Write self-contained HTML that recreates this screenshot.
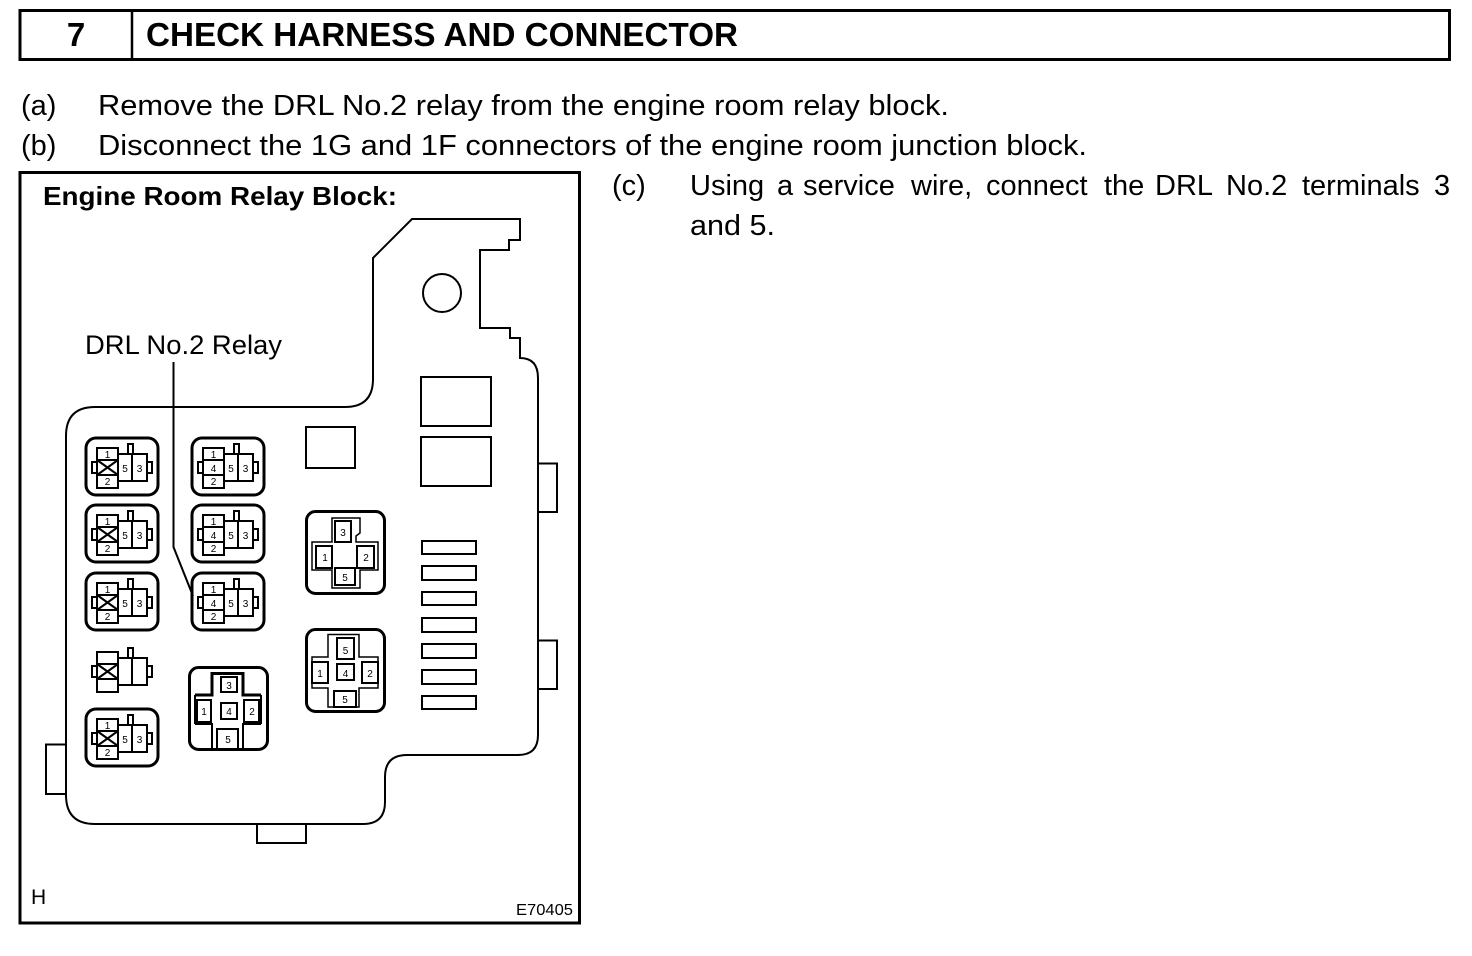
<!DOCTYPE html>
<html><head><meta charset="utf-8"><style>
html,body{margin:0;padding:0;background:#fff}
svg{display:block}
text{font-family:"Liberation Sans",Arial,sans-serif;fill:#000}
.t{font-size:29px}
.n{font-size:10px;text-anchor:middle}
.l rect,.l path,.l line{fill:none;stroke:#000;stroke-width:2}
.f{fill:none;stroke:#000;stroke-width:2}
</style></head><body>
<svg width="1472" height="956" viewBox="0 0 1472 956" xmlns="http://www.w3.org/2000/svg">
<rect width="1472" height="956" fill="#fff"/>
<rect x="20" y="10.500" width="1429.500" height="49" fill="none" stroke="#000" stroke-width="3"/>
<line x1="132" y1="10" x2="132" y2="60" stroke="#000" stroke-width="2.500"/>
<text x="76" y="46" font-size="33" font-weight="bold" text-anchor="middle">7</text>
<text x="146" y="46" font-size="33" font-weight="bold" textLength="592" lengthAdjust="spacingAndGlyphs">CHECK HARNESS AND CONNECTOR</text>
<text class="t" x="21" y="115">(a)</text>
<text class="t" x="98" y="115" textLength="851" lengthAdjust="spacingAndGlyphs">Remove the DRL No.2 relay from the engine room relay block.</text>
<text class="t" x="21" y="155">(b)</text>
<text class="t" x="98" y="155" textLength="989" lengthAdjust="spacingAndGlyphs">Disconnect the 1G and 1F connectors of the engine room junction block.</text>
<text class="t" x="612" y="195">(c)</text>
<text class="t" y="195"><tspan x="690">Using</tspan> <tspan x="777">a</tspan> <tspan x="803">service</tspan> <tspan x="911">wire,</tspan> <tspan x="986">connect</tspan> <tspan x="1104">the</tspan> <tspan x="1155">DRL</tspan> <tspan x="1226">No.2</tspan> <tspan x="1302">terminals</tspan> <tspan x="1434">3</tspan></text>
<text class="t" x="690" y="235" textLength="85" lengthAdjust="spacingAndGlyphs">and 5.</text>

<rect x="20" y="172.500" width="559.500" height="750.500" fill="none" stroke="#000" stroke-width="3"/>
<text x="43" y="205" font-size="26" font-weight="bold" textLength="354" lengthAdjust="spacingAndGlyphs">Engine Room Relay Block:</text>
<text x="85" y="354" font-size="27" textLength="197" lengthAdjust="spacingAndGlyphs">DRL No.2 Relay</text>
<text x="31" y="904" font-size="21">H</text>
<text x="516" y="915" font-size="16" textLength="57" lengthAdjust="spacingAndGlyphs">E70405</text>

<path d="M373 258 L412 219 H520 V240 H509 V250 H480 V328 H510 V338 H520 V358 Q538 358 538 378 V735 Q538 755 518 755 H407 Q385 755 385 777 V802 Q385 824 363 824 H95 Q66 824 66 795 V436 Q66 407 95 407 H345 Q373 407 373 379 Z" fill="none" stroke="#000" stroke-width="2"/>
<circle cx="442" cy="293" r="19" fill="none" stroke="#000" stroke-width="2"/>
<path d="M538 463.500 H557 V512 H538 M538 640.500 H557 V689 H538 M66 744.500 H46 V794 H66 M257 824 V843 H306 V824" fill="none" stroke="#000" stroke-width="2"/>
<rect x="421" y="377" width="70" height="49" fill="none" stroke="#000" stroke-width="2"/>
<rect x="421" y="437" width="70" height="49" fill="none" stroke="#000" stroke-width="2"/>
<rect x="306" y="427" width="49" height="41" fill="none" stroke="#000" stroke-width="2"/>
<path d="M173.500 362 V547 L193 596" fill="none" stroke="#000" stroke-width="2"/>

<g class="f">
<rect x="422" y="541" width="54" height="13"/><rect x="422" y="566" width="54" height="14"/>
<rect x="422" y="592" width="54" height="13"/><rect x="422" y="618" width="54" height="14"/>
<rect x="422" y="644" width="54" height="14"/><rect x="422" y="670" width="54" height="14"/>
<rect x="422" y="696" width="54" height="13"/>
</g>

<!-- small relays -->
<g class="l" transform="translate(85,437)"><rect x="1" y="1" width="72" height="57" rx="10" style="stroke-width:3"/><rect x="12" y="11" width="21" height="40"/><path d="M12 23H33M12 38H33M12 23L33 38M33 23L12 38"/><rect x="33" y="17" width="29" height="27"/><path d="M47 17V44M43 17V7H48V17M12 25H7V36H12M62 25H67V36H62"/><text class="n" x="22.500" y="21">1</text><text class="n" x="22.500" y="48">2</text><text class="n" x="40" y="35">5</text><text class="n" x="54.500" y="35">3</text></g>
<g class="l" transform="translate(85,504)"><rect x="1" y="1" width="72" height="57" rx="10" style="stroke-width:3"/><rect x="12" y="11" width="21" height="40"/><path d="M12 23H33M12 38H33M12 23L33 38M33 23L12 38"/><rect x="33" y="17" width="29" height="27"/><path d="M47 17V44M43 17V7H48V17M12 25H7V36H12M62 25H67V36H62"/><text class="n" x="22.500" y="21">1</text><text class="n" x="22.500" y="48">2</text><text class="n" x="40" y="35">5</text><text class="n" x="54.500" y="35">3</text></g>
<g class="l" transform="translate(85,572)"><rect x="1" y="1" width="72" height="57" rx="10" style="stroke-width:3"/><rect x="12" y="11" width="21" height="40"/><path d="M12 23H33M12 38H33M12 23L33 38M33 23L12 38"/><rect x="33" y="17" width="29" height="27"/><path d="M47 17V44M43 17V7H48V17M12 25H7V36H12M62 25H67V36H62"/><text class="n" x="22.500" y="21">1</text><text class="n" x="22.500" y="48">2</text><text class="n" x="40" y="35">5</text><text class="n" x="54.500" y="35">3</text></g>
<g class="l" transform="translate(85,708)"><rect x="1" y="1" width="72" height="57" rx="10" style="stroke-width:3"/><rect x="12" y="11" width="21" height="40"/><path d="M12 23H33M12 38H33M12 23L33 38M33 23L12 38"/><rect x="33" y="17" width="29" height="27"/><path d="M47 17V44M43 17V7H48V17M12 25H7V36H12M62 25H67V36H62"/><text class="n" x="22.500" y="21">1</text><text class="n" x="22.500" y="48">2</text><text class="n" x="40" y="35">5</text><text class="n" x="54.500" y="35">3</text></g>
<g class="l" transform="translate(85,641)"><rect x="12" y="11" width="21" height="40"/><path d="M12 23H33M12 38H33M12 23L33 38M33 23L12 38"/><rect x="33" y="17" width="29" height="27"/><path d="M47 17V44M43 17V7H48V17M12 25H7V36H12M62 25H67V36H62"/></g>

<g class="l" transform="translate(191,437)"><rect x="1" y="1" width="72" height="57" rx="10" style="stroke-width:3"/><rect x="12" y="11" width="21" height="40"/><path d="M12 23H33M12 38H33"/><rect x="33" y="17" width="29" height="27"/><path d="M47 17V44M43 17V7H48V17M12 25H7V36H12M62 25H67V36H62"/><text class="n" x="22.500" y="21">1</text><text class="n" x="22.500" y="35">4</text><text class="n" x="22.500" y="48">2</text><text class="n" x="40" y="35">5</text><text class="n" x="54.500" y="35">3</text></g>
<g class="l" transform="translate(191,504)"><rect x="1" y="1" width="72" height="57" rx="10" style="stroke-width:3"/><rect x="12" y="11" width="21" height="40"/><path d="M12 23H33M12 38H33"/><rect x="33" y="17" width="29" height="27"/><path d="M47 17V44M43 17V7H48V17M12 25H7V36H12M62 25H67V36H62"/><text class="n" x="22.500" y="21">1</text><text class="n" x="22.500" y="35">4</text><text class="n" x="22.500" y="48">2</text><text class="n" x="40" y="35">5</text><text class="n" x="54.500" y="35">3</text></g>
<g class="l" transform="translate(191,572)"><rect x="1" y="1" width="72" height="57" rx="10" style="stroke-width:3"/><rect x="12" y="11" width="21" height="40"/><path d="M12 23H33M12 38H33"/><rect x="33" y="17" width="29" height="27"/><path d="M47 17V44M43 17V7H48V17M12 25H7V36H12M62 25H67V36H62"/><text class="n" x="22.500" y="21">1</text><text class="n" x="22.500" y="35">4</text><text class="n" x="22.500" y="48">2</text><text class="n" x="40" y="35">5</text><text class="n" x="54.500" y="35">3</text></g>

<!-- large relay, lower middle -->
<g class="l">
<rect x="189.500" y="667.500" width="78" height="82" rx="9" style="stroke-width:3"/>
<path d="M195 695H212V673.500H243V695H261" style="stroke-width:3"/>
<path d="M195 724H212V749M243 749V724H261M195 695V724M261 695V724"/>
<rect x="221" y="677" width="16" height="15"/><rect x="197" y="700" width="14" height="22"/><rect x="221" y="703" width="16" height="16"/><rect x="244" y="700" width="15" height="22"/>
<path d="M217 749V729H238V749"/>
<text class="n" x="229" y="689">3</text><text class="n" x="204" y="715">1</text><text class="n" x="229" y="715">4</text><text class="n" x="252" y="715">2</text><text class="n" x="228" y="743">5</text>
</g>

<!-- large relay, upper right -->
<g class="l">
<rect x="306.500" y="511.500" width="78" height="82" rx="9" style="stroke-width:3"/>
<path d="M332 542V518H360V533L356 536V542H378V570H360V588H332V570H312V542Z" style="stroke-width:1.500"/>
<rect x="335" y="521" width="16" height="21"/><rect x="316" y="546" width="16" height="22"/><rect x="357" y="546" width="17" height="22"/><rect x="335" y="568" width="20" height="17"/>
<text class="n" x="343" y="536">3</text><text class="n" x="325" y="561">1</text><text class="n" x="366" y="561">2</text><text class="n" x="345" y="581">5</text>
</g>

<!-- large relay, lower right -->
<g class="l">
<rect x="306.500" y="629.500" width="78" height="82" rx="9" style="stroke-width:3"/>
<path d="M328 657V634.500H359V657H378V688H359V707H328V688H312V657Z" style="stroke-width:1.500"/>
<rect x="337" y="638" width="17" height="21"/><rect x="312" y="662" width="16" height="21"/><rect x="337" y="664" width="17" height="16"/><rect x="362" y="662" width="16" height="21"/><rect x="334" y="691" width="22" height="16"/>
<text class="n" x="345.500" y="654">5</text><text class="n" x="320" y="677">1</text><text class="n" x="345.500" y="677">4</text><text class="n" x="370" y="677">2</text><text class="n" x="345" y="703">5</text>
</g>
</svg>
</body></html>
